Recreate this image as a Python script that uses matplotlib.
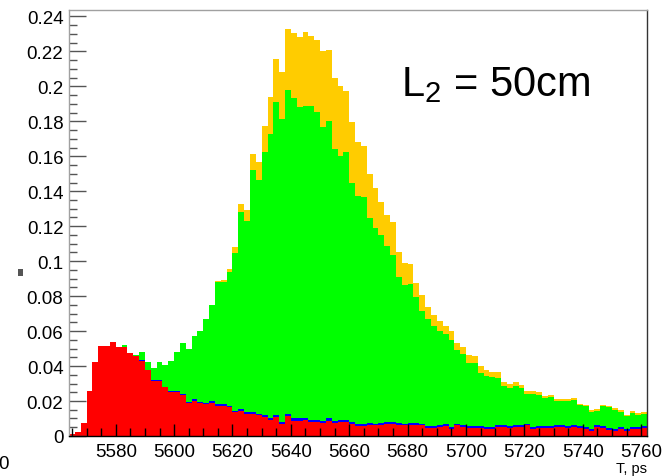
import numpy as np
import matplotlib
matplotlib.use('Agg')
import matplotlib.pyplot as plt
from matplotlib.patches import Rectangle
from matplotlib.ticker import MultipleLocator, FixedLocator

plt.rcParams['font.family'] = ['Liberation Sans', 'DejaVu Sans']
plt.rcParams['mathtext.fontset'] = 'custom'
plt.rcParams['mathtext.rm'] = 'Liberation Sans'

# time histogram, 2 ps bins from 5564 to 5762 ps
edges = np.arange(5564, 5763, 2)

red = [0.0010, 0.0020, 0.0073, 0.0256, 0.0422, 0.0517, 0.0517, 0.0540, 0.0507, 0.0507,
       0.0474, 0.0455, 0.0430, 0.0377, 0.0316, 0.0316, 0.0278, 0.0250, 0.0250, 0.0236,
       0.0189, 0.0202, 0.0187, 0.0183, 0.0190, 0.0173, 0.0173, 0.0165, 0.0135, 0.0145,
       0.0126, 0.0126, 0.0120, 0.0110, 0.0093, 0.0107, 0.0069, 0.0113, 0.0088, 0.0088,
       0.0093, 0.0078, 0.0078, 0.0074, 0.0088, 0.0073, 0.0078, 0.0078, 0.0069, 0.0055,
       0.0055, 0.0063, 0.0060, 0.0065, 0.0070, 0.0070, 0.0065, 0.0063, 0.0065, 0.0065,
       0.0060, 0.0046, 0.0046, 0.0050, 0.0059, 0.0040, 0.0060, 0.0050, 0.0046, 0.0046,
       0.0046, 0.0040, 0.0040, 0.0050, 0.0050, 0.0045, 0.0050, 0.0050, 0.0060, 0.0040,
       0.0046, 0.0046, 0.0046, 0.0050, 0.0053, 0.0046, 0.0053, 0.0046, 0.0040, 0.0030,
       0.0050, 0.0046, 0.0036, 0.0030, 0.0040, 0.0030, 0.0040, 0.0040, 0.0046]

blue = [0, 0, 0, 0, 0, 0, 0, 0, 0, 0,
        0, 0, 0.0003, 0.0003, 0.0003, 0.0005, 0.0005, 0.0005, 0.0005, 0.0005,
        0.0008, 0.0010, 0.0008, 0.0008, 0.0008, 0.0008, 0.0008, 0.0008, 0.0008, 0.0010,
        0.0011, 0.0010, 0.0008, 0.0010, 0.0010, 0.0013, 0.0010, 0.0013, 0.0013, 0.0013,
        0.0010, 0.0013, 0.0013, 0.0010, 0.0013, 0.0011, 0.0011, 0.0011, 0.0011, 0.0013,
        0.0013, 0.0013, 0.0010, 0.0010, 0.0010, 0.0010, 0.0008, 0.0008, 0.0010, 0.0010,
        0.0010, 0.0010, 0.0010, 0.0010, 0.0010, 0.0010, 0.0010, 0.0010, 0.0010, 0.0010,
        0.0010, 0.0010, 0.0010, 0.0010, 0.0010, 0.0010, 0.0010, 0.0010, 0.0010, 0.0010,
        0.0010, 0.0010, 0.0010, 0.0010, 0.0010, 0.0010, 0.0010, 0.0010, 0.0010, 0.0010,
        0.0010, 0.0010, 0.0010, 0.0010, 0.0010, 0.0010, 0.0010, 0.0010, 0.0010]

green = [0, 0, 0, 0, 0, 0, 0, 0, 0, 0.0013,
         0.0003, 0.0007, 0.0045, 0.0041, 0.0070, 0.0100, 0.0125, 0.0175, 0.0225, 0.0289,
         0.0300, 0.0361, 0.0405, 0.0478, 0.0551, 0.0698, 0.0698, 0.0763, 0.0904, 0.1125,
         0.1093, 0.1386, 0.1336, 0.1503, 0.1624, 0.1792, 0.1734, 0.1853, 0.1832, 0.1779,
         0.1786, 0.1795, 0.1761, 0.1685, 0.1699, 0.1558, 0.1514, 0.1534, 0.1367, 0.1302,
         0.1297, 0.1169, 0.1118, 0.1075, 0.1009, 0.0955, 0.0835, 0.0793, 0.0795, 0.0718,
         0.0647, 0.0613, 0.0571, 0.0543, 0.0514, 0.0501, 0.0420, 0.0408, 0.0362, 0.0359,
         0.0306, 0.0295, 0.0285, 0.0272, 0.0225, 0.0222, 0.0227, 0.0212, 0.0172, 0.0193,
         0.0178, 0.0161, 0.0165, 0.0139, 0.0138, 0.0145, 0.0144, 0.0119, 0.0120, 0.0100,
         0.0082, 0.0114, 0.0117, 0.0110, 0.0089, 0.0072, 0.0082, 0.0072, 0.0071]

yellow = [0, 0, 0, 0, 0, 0, 0, 0, 0, 0,
          0, 0, 0, 0, 0, 0, 0, 0, 0, 0,
          0, 0, 0, 0, 0.0003, 0.0006, 0.0014, 0.0019, 0.0033, 0.0047,
          0.0060, 0.0091, 0.0105, 0.0152, 0.0210, 0.0244, 0.0271, 0.0349, 0.0372, 0.0400,
          0.0424, 0.0404, 0.0413, 0.0435, 0.0408, 0.0404, 0.0401, 0.0352, 0.0347, 0.0310,
          0.0292, 0.0254, 0.0229, 0.0187, 0.0175, 0.0187, 0.0146, 0.0126, 0.0114, 0.0082,
          0.0089, 0.0067, 0.0065, 0.0057, 0.0044, 0.0051, 0.0042, 0.0043, 0.0045, 0.0044,
          0.0037, 0.0034, 0.0033, 0.0032, 0.0022, 0.0020, 0.0020, 0.0020, 0.0017, 0.0016,
          0.0016, 0.0014, 0.0014, 0.0013, 0.0012, 0.0012, 0.0012, 0.0010, 0.0010, 0.0010,
          0.0010, 0.0010, 0.0010, 0.0010, 0.0010, 0.0008, 0.0009, 0.0008, 0.0008]

series = [(red, '#ff0000'), (blue, '#0000ff'), (green, '#00ff00'), (yellow, '#ffcc00')]

xticks = [5580, 5600, 5620, 5640, 5660, 5680, 5700, 5720, 5740, 5760]
yticks = [0, 0.02, 0.04, 0.06, 0.08, 0.1, 0.12, 0.14, 0.16, 0.18, 0.2, 0.22, 0.24]
ytick_labels = ['0', '0.02', '0.04', '0.06', '0.08', '0.1', '0.12', '0.14',
                '0.16', '0.18', '0.2', '0.22', '0.24']

fig = plt.figure(figsize=(6.68, 4.77), dpi=100)
ax = fig.add_axes([0.1033, 0.0839, 0.8653, 0.8931])

# stacked histogram, drawn as filled steps
bottom = np.zeros(len(red))
for vals, col in series:
    vals = np.array(vals)
    ax.stairs(bottom + vals, edges, baseline=bottom, fill=True, color=col,
              linewidth=0, antialiased=False)
    bottom = bottom + vals

ax.set_xlim(5564, 5762)
ax.set_ylim(0, 0.2437)

ax.xaxis.set_major_locator(FixedLocator(xticks))
ax.xaxis.set_minor_locator(MultipleLocator(5))
ax.set_xticklabels([str(t) for t in xticks])
ax.yaxis.set_major_locator(FixedLocator(yticks))
ax.yaxis.set_minor_locator(MultipleLocator(0.005))
ax.set_yticklabels(ytick_labels)

ax.tick_params(axis='both', which='both', direction='in', labelsize=13.5)
ax.tick_params(axis='x', which='major', length=9, width=1, color='black', pad=5)
ax.tick_params(axis='x', which='minor', length=6, width=1, color='black')
ax.tick_params(axis='y', which='major', length=12, width=1, color='#555555', pad=4)
ax.tick_params(axis='y', which='minor', length=6, width=1, color='#555555')

for side in ['top', 'left']:
    ax.spines[side].set_color('#a0a0a0')
ax.spines['right'].set_color('#333333')
ax.spines['bottom'].set_color('black')
for sp in ax.spines.values():
    sp.set_linewidth(1)

ax.text(0.575, 0.80, r'L$_\mathregular{2}$ = 50cm', transform=ax.transAxes,
        fontsize=30, va='baseline', ha='left')

fig.text(0.9686, 0.003, 'T, ps', fontsize=10.5, ha='right', va='bottom')
fig.text(-0.002, 0.016, '0', fontsize=13.5, ha='left', va='baseline')
fig.patches.append(Rectangle((0.027, 0.419), 0.0075, 0.016, transform=fig.transFigure,
                             color='#555555', linewidth=0))

fig.savefig('out.png', dpi=100)
